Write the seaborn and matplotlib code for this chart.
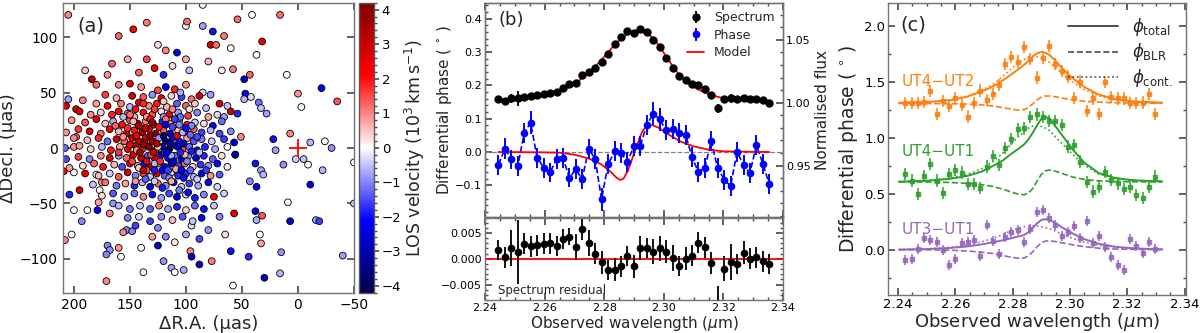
import numpy as np
import pandas as pd
import matplotlib
matplotlib.use("Agg")
import matplotlib.pyplot as plt
import seaborn as sns
from matplotlib.ticker import MultipleLocator, FuncFormatter
from matplotlib.lines import Line2D

# ---------------- panel (a): BLR clouds  (dRA [uas], dDec [uas], LOS velocity [1e3 km/s])
clouds_outer = [
    (205,120,1.0),(160,101,1.3),(147,107,2.3),(135,113,1.1),(100,110,0.1),(99,114,1.2),(85,129,0.0),
    (85,110,-0.8),(76,105,-2.0),(78,93,2.8),(73,93,1.2),(66,101,1.1),(54,116,1.2),(41,120,0.0),
    (16,120,1.2),(32,96,2.4),(37,84,0.0),(58,71,1.1),(43,66,1.3),(10,66,0.0),(-21,54,-2.2),(0,49,0.9),
    (-35,42,1.4),(-3,37,0.0),(47,49,-2.4),(48,44,-0.6),(42,46,-0.3),(35,41,-1.2),(33,36,-0.5),
    (28,31,-0.8),(7,13,1.0),(22,8,-2.0),(20,-2,-0.8),(-11,5,-0.6),(-24,6,0.0),(-30,0,-0.9),(2,-10,-0.4),
    (-5,-10,-0.5),(-9,-15,0.0),(13,-15,-0.9),(-50,-13,0.0),(-22,-20,-0.6),(-11,-33,-2.5),(38,-14,-2.0),
    (33,-20,-0.8),(31,-24,-0.6),(43,-30,-1.0),(37,-35,-2.1),(9,-49,0.0),(-50,-50,-0.5),(38,-57,-2.2),
    (32,-61,1.4),(37,-65,-0.7),(7,-66,-2.6),(-16,-65,-0.8),(-19,-66,-1.6),(34,-78,0.0),(33,-86,0.8),
    (44,-98,-1.8),(15,-94,-0.9),(-40,-97,-0.8),(16,-113,-0.6),(30,-117,-2.7),(60,-93,-2.0),(57,-59,2.5),
    (60,33,2.8),(54,31,-1.8),(51,10,1.0),(56,-6,-3.0),
    (207,38,2.5),(205,44,-0.8),(198,35,2.5),(192,43,1.0),(184,62,3.0),(180,57,1.2),(198,10,1.2),
    (200,1,0.9),(207,-10,-1.5),(200,-22,0.1),(209,-21,2.3),(204,-42,-1.8),(200,-56,0.0),(202,-78,0.0),
    (208,-83,1.0),(193,-66,-1.0),(188,-56,0.0),(179,-56,-2.3),(178,-49,0.8),(177,-38,0.0),(175,-31,1.0),
    (180,-24,0.0),(195,-38,2.8),(165,-50,-0.9),(168,-59,1.0),(170,-88,-1.0),(168,-92,-0.9),(171,-96,-1.0),
    (160,-90,0.9),(158,-98,0.0),(171,-120,1.0),(153,-74,-1.0),(156,-76,1.0),(148,-75,-1.0),(138,-112,0.0),
    (120,-102,-0.9),(113,-108,-0.8),(110,-112,0.0),(102,-110,-0.7),(96,-93,1.0),(95,-98,-2.5),
    (88,-105,-3.0),(77,-102,1.1),(125,-88,-2.8),(118,-80,-1.0),(110,-85,0.2),(130,-80,0.8),(88,-82,-1.5),
    (100,-78,-0.7),(140,-90,0.0),(145,-70,-1.6),(125,-72,-1.0),(95,-70,-0.3),(80,-74,-0.9),(65,-78,0.3),
    (58,-124,0.0),(125,93,0.3),(118,88,1.0),(108,86,-2.4),(135,80,1.5),(152,80,0.6),(166,76,1.3),
    (128,72,2.2),(112,74,0.3),(142,68,1.3),(170,66,0.9),(190,70,0.5),(60,90,0.0),(48,62,-2.6),
    (68,70,0.2),(80,78,0.6),(97,70,-0.5),(120,66,-1.8),(100,80,0.7),
]
clouds_core = [
    (160,57,1.0),(150,58,2.3),(140,55,0.8),(125,52,1.5),(118,55,-2.2),(110,53,1.8),(100,57,0.9),(85,50,-0.3),(78,48,-0.8),
    (172,48,1.6),(162,45,0.6),(148,47,2.8),(138,46,1.4),(130,48,-0.9),(122,45,2.4),(113,47,0.4),(104,46,-1.6),(95,44,1.2),(88,47,2.5),
    (180,40,0.8),(170,38,2.2),(158,40,1.1),(150,37,-0.6),(142,41,2.6),(133,38,1.0),(126,40,1.9),(117,37,0.6),(108,40,-1.3),
    (100,38,1.3),(92,40,0.5),(82,36,-0.5),(70,40,2.7),(63,38,-0.5),
    (195,33,2.5),(185,30,1.0),(176,32,0.4),(166,30,1.8),(160,33,2.2),(152,31,1.2),(146,28,0.7),(138,32,2.0),(130,30,1.5),
    (122,33,0.3),(115,30,2.2),(107,32,-0.8),(98,29,1.6),(90,32,-1.0),(80,28,0.8),(72,30,-0.3),(66,28,-0.8),
    (202,25,0.9),(190,23,1.4),(180,26,2.3),(172,22,0.5),(165,24,-0.7),(157,21,2.0),(150,25,1.5),(143,22,2.4),(136,24,1.1),
    (129,21,2.6),(121,24,-1.8),(114,22,1.0),(106,25,-0.6),(99,21,2.0),(92,23,-0.4),(84,22,0.3),(76,20,-2.2),(68,24,-1.2),
    (207,14,0.9),(196,17,1.7),(186,15,2.6),(176,13,1.2),(168,17,2.2),(160,15,0.6),(153,13,2.9),(146,16,1.9),(139,14,3.6),
    (133,17,2.4),(127,13,3.8),(120,16,1.4),(114,13,-2.8),(107,16,0.5),(100,14,-1.9),(93,17,1.3),(86,14,-1.6),(78,16,-0.6),
    (70,13,-1.5),(60,15,-1.0),
    (200,9,1.0),(188,7,0.5),(178,9,1.8),(170,6,-1.2),(162,8,2.7),(155,6,1.3),(148,9,3.0),(142,6,3.0),(136,9,2.2),(130,6,3.5),
    (124,9,-0.8),(118,6,-3.7),(112,9,-2.2),(106,6,-2.0),(99,9,0.8),(93,6,-1.4),(86,8,-1.1),(77,6,-0.4),(66,8,-1.6),(57,5,-2.5),
    (208,0,-1.2),(195,2,0.8),(185,-1,0.4),(175,1,-0.6),(167,-2,1.9),(159,1,0.7),(152,-1,2.4),(145,2,3.4),(139,-1,1.6),(133,1,4.0),
    (127,-2,2.1),(121,1,-3.0),(115,-1,-4.0),(109,2,-2.0),(103,-1,1.5),(97,1,-1.2),(90,-2,-2.0),(83,1,-1.8),(74,-1,-0.7),(63,1,0.0),
    (196,-8,1.6),(186,-10,-1.0),(176,-7,1.0),(168,-9,2.5),(160,-7,-0.8),(153,-9,1.3),(147,-6,2.7),(140,-9,3.1),(134,-7,-1.4),
    (128,-9,2.8),(122,-6,-2.6),(116,-9,-2.2),(110,-7,-1.2),(104,-10,-2.6),(98,-7,-0.9),(91,-9,-2.4),(84,-7,-1.8),(76,-10,-1.3),
    (68,-7,0.3),(56,-6,-3.0),
    (204,-18,0.8),(192,-16,0.3),(182,-14,1.3),(174,-17,2.0),(164,-15,0.6),(157,-17,-1.5),(150,-14,2.2),(143,-16,0.9),
    (137,-14,-2.0),(131,-17,3.2),(125,-14,1.0),(119,-17,-2.4),(113,-14,-2.5),(107,-16,-1.6),(101,-14,1.2),(94,-17,0.4),
    (87,-15,-1.7),(80,-16,-0.9),(72,-14,-2.1),(63,-17,0.2),
    (190,-23,2.3),(178,-25,0.6),(168,-23,-0.4),(160,-26,1.4),(152,-22,2.8),(145,-25,-1.0),(138,-23,1.6),(132,-26,-0.5),
    (126,-23,2.6),(119,-25,-1.3),(113,-22,-0.4),(107,-25,-1.8),(100,-23,-1.8),(93,-26,-0.6),(86,-23,-2.2),(78,-25,0.9),(70,-24,-1.4),
    (183,-33,-0.5),(172,-31,1.2),(162,-34,-1.1),(154,-32,0.8),(146,-34,-1.8),(139,-31,-0.6),(132,-35,-2.5),(125,-32,1.2),
    (118,-34,-0.9),(111,-31,-2.1),(104,-35,-0.5),(97,-32,-1.6),(89,-34,-0.7),(80,-31,-2.3),(72,-35,-0.3),
    (175,-43,0.3),(165,-41,-1.4),(155,-44,-0.7),(146,-41,-1.2),(138,-44,1.0),(130,-42,-2.0),(122,-45,-0.8),(115,-41,-1.5),
    (108,-44,-2.4),(100,-42,-0.4),(92,-45,-1.9),(84,-42,-1.0),(75,-44,2.1),(66,-41,-0.4),
    (160,-52,-0.6),(150,-55,-1.1),(141,-52,-0.4),(132,-55,-1.3),(124,-52,1.0),(116,-55,-0.7),(108,-53,-1.8),(100,-56,0.4),
    (92,-52,-1.2),(84,-55,-2.0),(75,-52,-0.5),
    (152,-63,-1.0),(142,-62,-0.3),(132,-66,-1.6),(122,-62,-0.9),(112,-65,0.6),(103,-62,-1.4),(94,-66,-0.5),(86,-63,-2.2),(70,-62,-1.0),
]
clouds_centre = [
    (150,30,1.2),(145,35,2.0),(135,28,0.8),(128,35,1.6),(120,28,-0.8),(112,35,1.0),(105,28,-1.2),(97,35,0.3),
    (152,18,1.8),(147,24,0.6),(132,26,2.0),(118,26,1.2),(110,26,-1.6),(103,14,-0.6),(95,20,-1.0),
    (150,3,2.2),(144,-2,1.0),(137,5,2.6),(131,-6,1.4),(125,1,0.5),(119,-4,-1.8),(113,-7,-0.7),(107,1,-2.8),
    (101,-6,0.6),(95,-3,-1.9),(148,-12,1.6),(142,-18,0.4),(135,-20,1.5),(128,-14,-0.6),(121,-20,-2.2),
    (115,-27,-1.0),(109,-19,0.8),(102,-27,-2.0),(96,-20,-1.3),(145,-30,0.9),(136,-28,-1.3),(128,-30,-0.4),
    (121,-36,-1.9),(113,-30,0.7),(106,-38,-1.1),(98,-40,-2.0),(90,-28,-0.4),(156,10,0.9),(160,-4,1.7),
    (163,20,1.3),(156,28,-0.6),(90,10,-1.5),(88,-4,-0.5),(82,-20,-1.6),(138,40,1.8),(120,42,0.5),(105,50,-0.7),
    (142,20,3.3),(136,18,2.8),(130,23,3.7),(124,19,2.0),(118,21,-2.2),(112,19,-1.5),(106,21,-1.0),(100,18,-2.0),
    (144,11,2.1),(138,3,3.8),(132,11,4.1),(126,4,3.2),(120,11,-3.9),(114,4,-3.3),(108,11,2.5),(102,4,-2.5),(96,12,-1.2),
    (141,-4,3.6),(135,-12,2.3),(129,-4,3.0),(123,-12,1.8),(117,-4,-2.5),(111,-12,-2.4),(105,-4,-1.8),(99,-12,-1.0),
    (138,-20,2.9),(128,-20,-1.9),(116,-20,-1.6),(104,-20,-2.2),
]

# ---------------- panel (b)
wl_b = [2.2445,2.2467,2.2488,2.2510,2.2532,2.2553,2.2575,2.2597,2.2618,2.2640,2.2662,2.2683,2.2705,2.2726,
        2.2748,2.2770,2.2791,2.2813,2.2835,2.2856,2.2878,2.2900,2.2921,2.2943,2.2965,2.2986,2.3008,2.3030,
        2.3051,2.3073,2.3095,2.3116,2.3138,2.3159,2.3181,2.3203,2.3224,2.3246,2.3268,2.3289,2.3311,2.3333,2.3354]
flux_b = [1.0026,1.0013,1.0034,1.0034,1.0047,1.0053,1.0061,1.0071,1.0079,1.0087,1.0118,1.0145,1.0153,1.0224,
          1.0245,1.0276,1.0326,1.0389,1.0466,1.0521,1.0571,1.0555,1.0584,1.0563,1.0500,1.0439,1.0355,1.0276,
          1.0211,1.0179,1.0145,1.0139,1.0111,1.0061,0.9955,1.0032,1.0034,1.0026,1.0039,1.0026,1.0026,1.0021,1.0000]
flux_model_b = [1.0008,1.0011,1.0013,1.0018,1.0024,1.0032,1.0039,1.0050,1.0063,1.0079,1.0100,1.0126,1.0158,1.0195,
                1.0237,1.0289,1.0342,1.0400,1.0461,1.0508,1.0545,1.0561,1.0563,1.0553,1.0513,1.0447,1.0368,1.0289,
                1.0224,1.0171,1.0132,1.0105,1.0079,1.0061,1.0047,1.0034,1.0026,1.0021,1.0018,1.0013,1.0011,1.0008,1.0005]
resid_b = [0.0017,0.0003,0.0020,0.0014,0.0029,0.0024,0.0026,0.0029,0.0030,0.0025,0.0038,0.0043,0.0023,0.0057,
           0.0031,0.0010,-0.0007,-0.0022,-0.0021,-0.0015,0.0005,-0.0015,0.0021,0.0021,0.0014,0.0020,0.0014,0.0001,
           -0.0014,0.0000,0.0006,0.0031,0.0022,-0.0008,-0.0088,-0.0019,-0.0006,-0.0010,0.0012,0.0000,0.0003,-0.0005,-0.0010]
resid_err_b = [0.0020,0.0020,0.0035,0.0062,0.0020,0.0020,0.0020,0.0020,0.0020,0.0020,0.0020,0.0017,0.0025,0.0020,
               0.0025,0.0020,0.0022,0.0020,0.0022,0.0020,0.0020,0.0022,0.0023,0.0020,0.0025,0.0025,0.0023,0.0025,
               0.0020,0.0022,0.0020,0.0020,0.0020,0.0022,0.0035,0.0025,0.0035,0.0020,0.0022,0.0020,0.0020,0.0020,0.0020]
phase_b = [-0.038,0.010,-0.022,-0.042,0.058,0.088,-0.017,-0.047,-0.061,-0.022,-0.018,-0.077,-0.052,-0.082,
           0.010,-0.022,-0.142,-0.037,0.002,-0.004,-0.029,0.018,0.018,0.082,0.115,0.098,0.065,0.070,0.058,0.052,
           -0.016,-0.060,-0.047,0.032,-0.049,-0.083,-0.102,0.000,-0.040,-0.062,0.020,-0.036,-0.097]
phase_err_b = [0.030,0.032,0.028,0.030,0.030,0.035,0.030,0.030,0.028,0.030,0.030,0.028,0.030,0.030,0.030,0.030,
               0.035,0.030,0.030,0.030,0.030,0.030,0.030,0.030,0.035,0.035,0.030,0.030,0.030,0.030,0.030,0.030,
               0.030,0.030,0.030,0.030,0.030,0.030,0.030,0.030,0.030,0.030,0.030]
mod_wl_b = [2.2445,2.2600,2.2650,2.2700,2.2750,2.2790,2.2820,2.2840,2.2853,2.2865,2.2880,2.2890,2.2900,2.2910,
            2.2920,2.2930,2.2945,2.2960,2.2980,2.3000,2.3030,2.3060,2.3100,2.3150,2.3200,2.3354]
mod_phase_b = [0.000,-0.001,-0.002,-0.008,-0.020,-0.037,-0.058,-0.076,-0.084,-0.080,-0.055,-0.030,-0.005,0.020,
               0.045,0.065,0.080,0.081,0.074,0.062,0.045,0.030,0.017,0.007,0.002,0.000]

# ---------------- panel (c)
wl_c = [2.2426,2.2448,2.2469,2.2491,2.2513,2.2535,2.2557,2.2578,2.2600,2.2622,2.2644,2.2666,2.2687,2.2709,
        2.2731,2.2753,2.2775,2.2796,2.2818,2.2840,2.2862,2.2884,2.2905,2.2927,2.2949,2.2971,2.2993,2.3014,
        2.3036,2.3058,2.3080,2.3102,2.3123,2.3145,2.3167,2.3189,2.3211,2.3232,2.3254,2.3276,2.3298]
phi_ut42 = [1.312,1.307,1.307,1.321,1.417,1.211,1.330,1.283,1.357,1.292,1.188,1.312,1.420,1.336,1.390,1.470,
            1.658,1.723,1.679,1.807,1.700,1.536,1.714,1.818,1.655,1.595,1.545,1.357,1.500,1.238,1.351,1.211,
            1.494,1.360,1.351,1.351,1.307,1.307,1.313,1.387,1.211]
phi_ut41 = [0.676,0.616,0.497,0.658,0.765,0.616,0.503,0.676,0.711,0.688,0.586,0.586,0.548,0.741,0.836,0.756,
            0.905,0.985,1.074,1.083,1.185,1.208,1.187,1.149,1.149,1.113,0.920,0.935,0.786,0.607,0.518,0.557,
            0.696,0.622,0.592,0.539,0.563,0.488,0.464,0.563,0.652]
phi_ut31 = [-0.092,-0.086,0.003,0.101,0.086,0.068,-0.003,-0.137,-0.080,0.057,0.068,0.086,-0.057,0.220,0.080,
            -0.039,0.116,0.161,0.176,0.071,0.182,0.339,0.354,0.280,0.220,0.122,0.161,0.214,0.101,0.259,0.057,
            0.122,0.027,-0.063,-0.137,-0.182,0.092,0.033,-0.027,0.071,0.003]
err_ut42, err_ut41, err_ut31 = 0.055, 0.055, 0.045

mw_c = [2.2403,2.2500,2.2580,2.2640,2.2690,2.2730,2.2765,2.2795,2.2820,2.2840,2.2855,2.2870,2.2885,2.2900,
        2.2915,2.2930,2.2950,2.2975,2.3010,2.3050,2.3100,2.3160,2.3230,2.3322]
tot_ut42 = [1.310,1.318,1.333,1.365,1.410,1.455,1.510,1.565,1.610,1.650,1.685,1.722,1.752,1.767,1.759,1.735,
            1.685,1.612,1.530,1.452,1.385,1.342,1.322,1.312]
blr_ut42 = [1.305,1.305,1.303,1.300,1.293,1.283,1.268,1.255,1.245,1.250,1.270,1.300,1.335,1.362,1.372,1.372,
            1.365,1.352,1.337,1.325,1.317,1.311,1.308,1.306]
cont_ut42 = [1.310,1.318,1.335,1.370,1.420,1.475,1.545,1.615,1.665,1.700,1.720,1.727,1.722,1.710,1.692,1.668,
             1.625,1.565,1.495,1.430,1.373,1.336,1.318,1.310]
tot_ut41 = [0.607,0.615,0.632,0.657,0.695,0.745,0.795,0.855,0.900,0.940,0.985,1.043,1.110,1.167,1.185,1.168,
            1.100,1.013,0.893,0.777,0.684,0.638,0.618,0.610]
blr_ut41 = [0.605,0.604,0.600,0.592,0.580,0.565,0.540,0.515,0.495,0.490,0.505,0.545,0.610,0.672,0.705,0.711,
            0.700,0.678,0.648,0.627,0.614,0.608,0.606,0.605]
cont_ut41 = [0.607,0.616,0.637,0.670,0.720,0.785,0.860,0.945,1.010,1.055,1.085,1.103,1.105,1.100,1.085,1.062,
             1.005,0.940,0.850,0.755,0.675,0.635,0.617,0.610]
tot_ut31 = [0.000,0.005,0.015,0.028,0.046,0.065,0.083,0.102,0.118,0.130,0.155,0.192,0.235,0.265,0.272,0.263,
            0.237,0.195,0.143,0.094,0.053,0.025,0.010,0.003]
blr_ut31 = [0.000,-0.001,-0.005,-0.012,-0.022,-0.035,-0.052,-0.068,-0.077,-0.075,-0.055,-0.020,0.025,0.060,
            0.077,0.078,0.072,0.060,0.043,0.027,0.013,0.005,0.002,0.000]
cont_ut31 = [0.000,0.006,0.020,0.040,0.068,0.100,0.135,0.170,0.195,0.205,0.210,0.212,0.210,0.205,0.195,0.185,
             0.165,0.135,0.100,0.067,0.040,0.020,0.008,0.003]

# ---------------- style
sns.set_theme(style="ticks")
plt.rcParams["font.family"] = ["DejaVu Sans"]
plt.rcParams.update({
    "axes.edgecolor": "0.45", "axes.linewidth": 1.0,
    "xtick.direction": "in", "ytick.direction": "in",
    "xtick.color": "0.3", "ytick.color": "0.3",
    "xtick.labelcolor": "black", "ytick.labelcolor": "black",
    "xtick.major.size": 5, "ytick.major.size": 5,
    "xtick.minor.size": 2.5, "ytick.minor.size": 2.5,
    "mathtext.fontset": "dejavusans",
})
W, H = 1200, 333
fig = plt.figure(figsize=(12, 3.33), dpi=100)

def rect(x0, y0, x1, y1):
    return [x0 / W, 1 - y1 / H, (x1 - x0) / W, (y1 - y0) / H]

def minus(fmt):
    return FuncFormatter(lambda v, p: (fmt % v).replace("-", "\u2212"))

# ---------------- panel (a)
axa = fig.add_axes(rect(62.7, 2.7, 354, 293.3))
dfa = pd.DataFrame(clouds_outer + clouds_core + clouds_centre, columns=["ra", "dec", "v"])
sns.scatterplot(data=dfa, x="ra", y="dec", hue="v", palette="seismic", hue_norm=(-4.2, 4.2),
                s=24, edgecolor="black", linewidth=0.6, legend=False, ax=axa)
axa.plot([0], [0], marker="+", color="red", ms=13, mew=1.3, ls="none")
axa.set_xlim(210, -50)
axa.set_ylim(-131, 131)
axa.set_xticks([200, 150, 100, 50, 0, -50])
axa.set_yticks([-100, -50, 0, 50, 100])
axa.xaxis.set_major_formatter(minus("%d"))
axa.yaxis.set_major_formatter(minus("%d"))
axa.tick_params(labelsize=10, top=True, right=True)
axa.set_xlabel("\u0394R.A. (\u00b5as)", fontsize=13, labelpad=2)
axa.set_ylabel("\u0394Decl. (\u00b5as)", fontsize=13, labelpad=2)
axa.text(0.05, 0.92, "(a)", transform=axa.transAxes, fontsize=14, va="center", ha="left")

cax = fig.add_axes(rect(359, 2.7, 374, 292.7))
sm = plt.cm.ScalarMappable(cmap="seismic", norm=plt.Normalize(-4.2, 4.2))
cb = fig.colorbar(sm, cax=cax)
cb.set_ticks(list(range(-4, 5)))
cb.ax.yaxis.set_major_formatter(minus("%d"))
cb.ax.yaxis.set_minor_locator(MultipleLocator(0.2))
cb.ax.tick_params(which="both", direction="out", labelsize=9.5, color="0.3", pad=2)
cb.ax.tick_params(which="major", length=3.5)
cb.ax.tick_params(which="minor", length=2)
cb.outline.set_edgecolor("0.35")
cb.set_label(r"LOS velocity ($10^3\,$km$\,$s$^{-1}$)", fontsize=12.5, labelpad=1)

# ---------------- panel (b)
axb = fig.add_axes(rect(485, 2.7, 783, 217))
axf = axb.twinx()
axr = fig.add_axes(rect(485, 217.5, 783, 300))

axb.axhline(0, color="gray", ls="--", lw=0.9, zorder=1)
sns.lineplot(x=wl_b, y=phase_b, ax=axb, color="blue", linestyle="--", lw=1.2, sort=False)
h_phase = axb.errorbar(wl_b, phase_b, yerr=phase_err_b, fmt="o", color="blue", ms=4.5,
                       elinewidth=1.4, capsize=0, zorder=3)
sns.lineplot(x=mod_wl_b, y=mod_phase_b, ax=axb, color="red", lw=1.3)
axb.set_xlim(2.24, 2.34)
axb.set_ylim(-0.195, 0.448)
axb.set_yticks([-0.1, 0.0, 0.1, 0.2, 0.3, 0.4])
axb.yaxis.set_major_formatter(minus("%.1f"))
axb.yaxis.set_minor_locator(MultipleLocator(0.02))
axb.xaxis.set_major_locator(MultipleLocator(0.02))
axb.xaxis.set_minor_locator(MultipleLocator(0.005))
axb.tick_params(which="both", top=True, right=False, labelbottom=False, labelsize=8, pad=2)
axb.set_ylabel(r"Differential phase ($\,^\circ\,$)", fontsize=11, labelpad=1)
axb.text(0.045, 0.92, "(b)", transform=axb.transAxes, fontsize=13, va="center", ha="left")

h_spec = axf.errorbar(wl_b, flux_b, yerr=resid_err_b, fmt="o", color="black", ms=5,
                      elinewidth=1.3, capsize=0, zorder=3)
sns.lineplot(x=wl_b, y=flux_model_b, ax=axf, color="red", lw=1.3)
axf.set_ylim(0.9092, 1.0795)
axf.set_yticks([0.95, 1.00, 1.05])
axf.yaxis.set_major_formatter(minus("%.2f"))
axf.yaxis.set_minor_locator(MultipleLocator(0.01))
axf.tick_params(which="both", direction="in", right=True, left=False, labelsize=8, pad=2)
axf.set_ylabel("Normalised flux", fontsize=11, labelpad=3)
axf.legend(handles=[h_spec, h_phase, Line2D([], [], color="red", lw=1.3)],
           labels=["Spectrum", "Phase", "Model"], loc="upper right", frameon=False,
           fontsize=9, handlelength=1.3, labelspacing=0.35, borderaxespad=0.3)

axr.axhline(0, color="red", lw=1.3, zorder=1)
axr.errorbar(wl_b, resid_b, yerr=resid_err_b, fmt="o", color="black", ms=4.5, elinewidth=1.3,
             capsize=0, zorder=3)
axr.set_xlim(2.24, 2.34)
axr.set_ylim(-0.008, 0.008)
axr.set_yticks([-0.005, 0.0, 0.005])
axr.yaxis.set_major_formatter(minus("%.3f"))
axr.yaxis.set_minor_locator(MultipleLocator(0.001))
axr.xaxis.set_major_locator(MultipleLocator(0.02))
axr.xaxis.set_minor_locator(MultipleLocator(0.005))
axr.xaxis.set_major_formatter(minus("%.2f"))
axr.tick_params(which="both", top=True, right=True, labelsize=8, pad=2)
axr.set_xlabel(r"Observed wavelength ($\mu$m)", fontsize=11, labelpad=1)
axr.text(0.045, 0.12, "Spectrum residual", transform=axr.transAxes, fontsize=8.5, va="center", ha="left")

# ---------------- panel (c)
axc = fig.add_axes(rect(888, 2.7, 1186, 295))
series = [("UT4\u2212UT2", "#ff7f0e", phi_ut42, err_ut42, tot_ut42, blr_ut42, cont_ut42, 1.50),
          ("UT4\u2212UT1", "#2ca02c", phi_ut41, err_ut41, tot_ut41, blr_ut41, cont_ut41, 0.875),
          ("UT3\u2212UT1", "#9467bd", phi_ut31, err_ut31, tot_ut31, blr_ut31, cont_ut31, 0.18)]
for name, col, phi, err, tot, blr, cont, ylab in series:
    axc.errorbar(wl_c, phi, yerr=err, fmt="s", color=col, ms=2.6, elinewidth=1.3, capsize=0,
                 alpha=0.85, zorder=3)
    sns.lineplot(x=mw_c, y=tot, ax=axc, color=col, lw=1.4, linestyle="-")
    sns.lineplot(x=mw_c, y=blr, ax=axc, color=col, lw=1.2, linestyle="--")
    sns.lineplot(x=mw_c, y=cont, ax=axc, color=col, lw=1.2, linestyle=":")
    axc.text(2.2413, ylab, name, color=col, fontsize=11, va="center", ha="left")
axc.set_xlim(2.2365, 2.3405)
axc.set_ylim(-0.405, 2.205)
axc.set_yticks([0.0, 0.5, 1.0, 1.5, 2.0])
axc.yaxis.set_minor_locator(MultipleLocator(0.25))
axc.xaxis.set_major_locator(MultipleLocator(0.02))
axc.xaxis.set_minor_locator(MultipleLocator(0.005))
axc.xaxis.set_major_formatter(minus("%.2f"))
axc.tick_params(which="both", top=True, right=True, labelsize=9.5, pad=2)
axc.set_xlabel(r"Observed wavelength ($\mu$m)", fontsize=13, labelpad=0)
axc.set_ylabel(r"Differential phase ($\,^\circ\,$)", fontsize=13.5, labelpad=3)
axc.text(0.04, 0.925, "(c)", transform=axc.transAxes, fontsize=14, va="center", ha="left")
axc.legend(handles=[Line2D([], [], color="0.3", lw=1.4, ls="-"),
                    Line2D([], [], color="0.3", lw=1.2, ls="--"),
                    Line2D([], [], color="0.3", lw=1.2, ls=":")],
           labels=[r"$\phi_{\rm total}$", r"$\phi_{\rm BLR}$", r"$\phi_{\rm cont.}$"],
           loc="upper right", frameon=False, fontsize=12, handlelength=3.0, labelspacing=0.2,
           borderaxespad=0.4)

fig.savefig("out.png", dpi=100)
